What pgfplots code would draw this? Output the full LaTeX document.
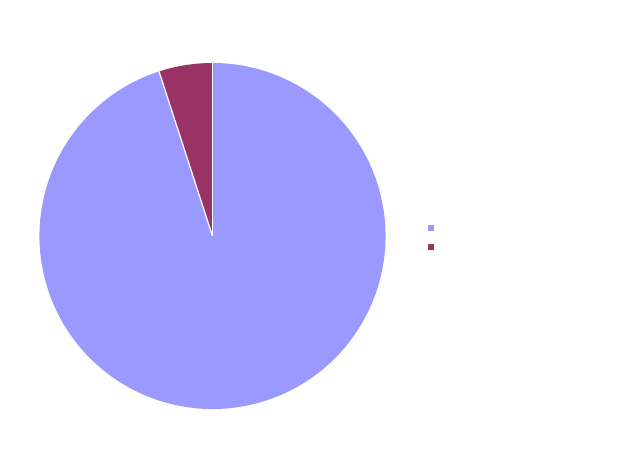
\documentclass[border=0pt]{standalone}
\usepackage{pgfplots}
\usepackage{pgfplotstable}
\pgfplotsset{compat=1.18}
\definecolor{sliceA}{HTML}{9999FF}
\definecolor{sliceB}{HTML}{993366}
\pgfplotstableread{
label value
A 95
B 5
}\piedata
\begin{document}
\begin{tikzpicture}
\pgfplotstablegetelem{0}{value}\of\piedata \let\va\pgfplotsretval
\pgfplotstablegetelem{1}{value}\of\piedata \let\vb\pgfplotsretval
\pgfmathsetmacro\angB{90+360*\vb/(\va+\vb)}
\begin{axis}[
    x=1pt, y=1pt,
    xmin=0, xmax=621, ymin=0, ymax=475,
    hide axis, clip=false,
    legend style={draw=none, fill=none, at={(axis cs:428,250)}, anchor=north west,
        inner sep=0pt, row sep=11pt,
        nodes={inner sep=0pt, text height=5pt, text depth=0pt}},
]
\path[use as bounding box] (axis cs:0,0) rectangle (axis cs:621,475);
% slices, counter-clockwise from 12 o'clock
\fill[sliceB] (axis cs:212.5,239) -- ++(90:173pt)
    arc[start angle=90, end angle=\angB, radius=173pt] -- cycle;
\fill[sliceA] (axis cs:212.5,239) -- ++(\angB:173pt)
    arc[start angle=\angB, end angle=450, radius=173pt] -- cycle;
\draw[white, line width=1.2pt] (axis cs:212.5,239) -- ++(90:173pt);
\draw[white, line width=1.2pt] (axis cs:212.5,239) -- ++(\angB:173pt);
\addlegendimage{legend image code/.code={\fill[sliceA] (0pt,0pt) rectangle (5pt,5pt);}}
\addlegendentry{}
\addlegendimage{legend image code/.code={\fill[sliceB] (0pt,0pt) rectangle (5pt,5pt);}}
\addlegendentry{}
\end{axis}
\end{tikzpicture}
\end{document}
